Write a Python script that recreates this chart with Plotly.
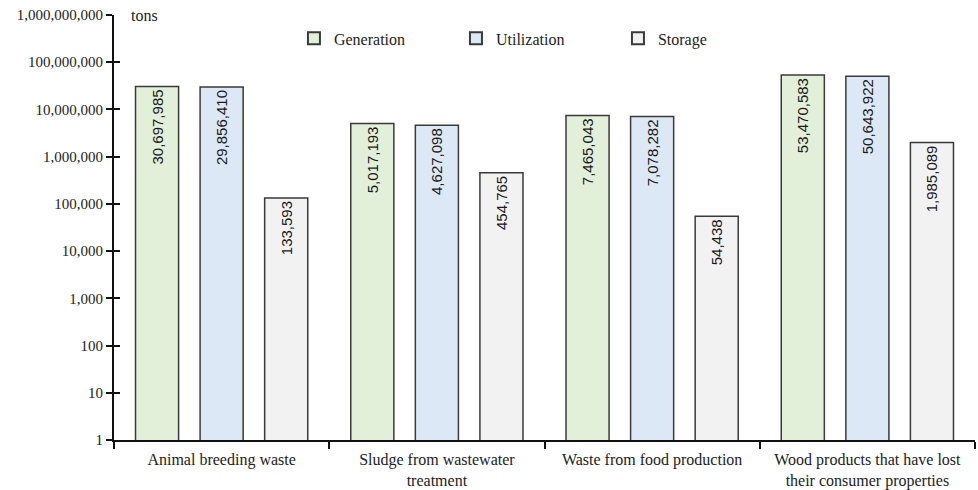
import plotly.graph_objects as go

categories = [
    "Animal breeding waste",
    "Sludge from wastewater<br>treatment",
    "Waste from food production",
    "Wood products that have lost<br>their consumer properties",
]
generation = [30697985, 5017193, 7465043, 53470583]
utilization = [29856410, 4627098, 7078282, 50643922]
storage = [133593, 454765, 54438, 1985089]

series_names = ["Generation", "Utilization", "Storage"]
series_values = [generation, utilization, storage]
series_colors = ["#e2efd9", "#dce8f5", "#f2f2f2"]

tick_values = [1, 10, 100, 1000, 10000, 100000, 1000000, 10000000, 100000000, 1000000000]
tick_labels = [f"{v:,}" for v in tick_values]

serif = "Liberation Serif, Times New Roman, serif"
sans = "Liberation Sans, Arial, sans-serif"

fig = go.Figure()
for name, vals, color in zip(series_names, series_values, series_colors):
    fig.add_trace(go.Bar(
        x=categories,
        y=vals,
        name=name,
        marker=dict(color=color, line=dict(color="#3a3a3a", width=1.5)),
        text=[f"{v:,}" for v in vals],
        textposition="inside",
        insidetextanchor="end",
        textangle=-90,
        textfont=dict(family=sans, size=15, color="#1a1a1a"),
        constraintext="none",
    ))

# invisible helper trace so the overlaid axis draws its inner ticks
fig.add_trace(go.Scatter(x=[categories[0]], y=[1], yaxis="y2", mode="markers",
                         marker=dict(opacity=0), showlegend=False, hoverinfo="skip"))

axis_range = [0, 9]
fig.update_layout(
    width=978,
    height=490,
    margin=dict(l=114, r=3, t=15, b=50),
    paper_bgcolor="white",
    plot_bgcolor="white",
    barmode="group",
    bargap=0.1,
    bargroupgap=0.333,
    uniformtext=dict(minsize=15, mode="show"),
    xaxis=dict(
        showline=True, linecolor="#111", linewidth=2,
        ticks="outside", tickson="boundaries", ticklen=7, tickwidth=1.5, tickcolor="#111",
        tickfont=dict(family=serif, size=16, color="#222"),
        ticklabelstandoff=4,
        showgrid=False, automargin=False,
    ),
    yaxis=dict(
        type="log", range=axis_range,
        tickvals=tick_values, ticktext=tick_labels,
        showline=True, linecolor="#111", linewidth=2,
        ticks="outside", ticklen=6, tickwidth=2, tickcolor="#111",
        tickfont=dict(family=serif, size=15, color="#222"),
        showgrid=False, zeroline=False, automargin=False,
    ),
    yaxis2=dict(
        type="log", range=axis_range, overlaying="y", side="left",
        tickvals=tick_values, showticklabels=False,
        ticks="inside", ticklen=6, tickwidth=2, tickcolor="#111",
        showgrid=False, zeroline=False, showline=False,
    ),
    legend=dict(
        orientation="h", x=0.209, xanchor="left", y=0.985, yanchor="top",
        font=dict(family=serif, size=16, color="#222"),
        entrywidth=117, bgcolor="rgba(0,0,0,0)",
        itemsizing="constant",
    ),
    annotations=[dict(
        text="tons", xref="paper", yref="paper", x=0.0, y=1.0,
        xanchor="left", yanchor="middle", xshift=15, showarrow=False,
        font=dict(family=serif, size=16, color="#222"),
    )],
)

fig.write_html("out.html")
